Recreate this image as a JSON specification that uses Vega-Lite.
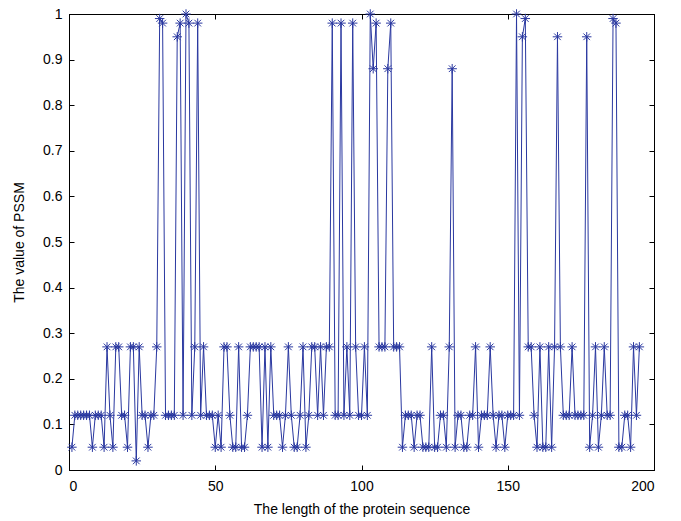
{
  "$schema": "https://vega.github.io/schema/vega-lite/v6.json",
  "width": 585,
  "height": 456,
  "autosize": {"type": "none"},
  "padding": {"left": 69, "top": 14, "right": 27, "bottom": 51},
  "background": "white",
  "config": {
    "view": {"stroke": "black", "strokeWidth": 1},
    "axis": {
      "grid": false,
      "domainColor": "black",
      "tickColor": "black",
      "labelColor": "black",
      "titleColor": "black",
      "labelFont": "Liberation Sans",
      "titleFont": "Liberation Sans",
      "labelFontSize": 14,
      "titleFontSize": 14,
      "titleFontWeight": "normal",
      "tickSize": -5
    }
  },
  "data": {"values": [
    {"x":1,"v":0.05},{"x":2,"v":0.12},{"x":3,"v":0.12},{"x":4,"v":0.12},{"x":5,"v":0.12},{"x":6,"v":0.12},{"x":7,"v":0.12},{"x":8,"v":0.05},{"x":9,"v":0.12},{"x":10,"v":0.12},
    {"x":11,"v":0.12},{"x":12,"v":0.05},{"x":13,"v":0.27},{"x":14,"v":0.12},{"x":15,"v":0.05},{"x":16,"v":0.27},{"x":17,"v":0.27},{"x":18,"v":0.12},{"x":19,"v":0.12},{"x":20,"v":0.05},
    {"x":21,"v":0.27},{"x":22,"v":0.27},{"x":23,"v":0.02},{"x":24,"v":0.27},{"x":25,"v":0.12},{"x":26,"v":0.12},{"x":27,"v":0.05},{"x":28,"v":0.12},{"x":29,"v":0.12},{"x":30,"v":0.27},
    {"x":31,"v":0.99},{"x":32,"v":0.98},{"x":33,"v":0.12},{"x":34,"v":0.12},{"x":35,"v":0.12},{"x":36,"v":0.12},{"x":37,"v":0.95},{"x":38,"v":0.98},{"x":39,"v":0.12},{"x":40,"v":1.0},
    {"x":41,"v":0.98},{"x":42,"v":0.12},{"x":43,"v":0.27},{"x":44,"v":0.98},{"x":45,"v":0.12},{"x":46,"v":0.27},{"x":47,"v":0.12},{"x":48,"v":0.12},{"x":49,"v":0.12},{"x":50,"v":0.05},
    {"x":51,"v":0.12},{"x":52,"v":0.05},{"x":53,"v":0.27},{"x":54,"v":0.27},{"x":55,"v":0.12},{"x":56,"v":0.05},{"x":57,"v":0.05},{"x":58,"v":0.27},{"x":59,"v":0.05},{"x":60,"v":0.05},
    {"x":61,"v":0.12},{"x":62,"v":0.27},{"x":63,"v":0.27},{"x":64,"v":0.27},{"x":65,"v":0.27},{"x":66,"v":0.05},{"x":67,"v":0.27},{"x":68,"v":0.05},{"x":69,"v":0.27},{"x":70,"v":0.12},
    {"x":71,"v":0.12},{"x":72,"v":0.12},{"x":73,"v":0.05},{"x":74,"v":0.12},{"x":75,"v":0.27},{"x":76,"v":0.12},{"x":77,"v":0.05},{"x":78,"v":0.05},{"x":79,"v":0.12},{"x":80,"v":0.27},
    {"x":81,"v":0.05},{"x":82,"v":0.12},{"x":83,"v":0.27},{"x":84,"v":0.27},{"x":85,"v":0.12},{"x":86,"v":0.27},{"x":87,"v":0.12},{"x":88,"v":0.27},{"x":89,"v":0.27},{"x":90,"v":0.98},
    {"x":91,"v":0.12},{"x":92,"v":0.12},{"x":93,"v":0.98},{"x":94,"v":0.12},{"x":95,"v":0.27},{"x":96,"v":0.12},{"x":97,"v":0.98},{"x":98,"v":0.27},{"x":99,"v":0.12},{"x":100,"v":0.12},
    {"x":101,"v":0.27},{"x":102,"v":0.12},{"x":103,"v":1.0},{"x":104,"v":0.88},{"x":105,"v":0.98},{"x":106,"v":0.27},{"x":107,"v":0.27},{"x":108,"v":0.27},{"x":109,"v":0.88},{"x":110,"v":0.98},
    {"x":111,"v":0.27},{"x":112,"v":0.27},{"x":113,"v":0.27},{"x":114,"v":0.05},{"x":115,"v":0.12},{"x":116,"v":0.12},{"x":117,"v":0.12},{"x":118,"v":0.05},{"x":119,"v":0.12},{"x":120,"v":0.12},
    {"x":121,"v":0.05},{"x":122,"v":0.05},{"x":123,"v":0.05},{"x":124,"v":0.27},{"x":125,"v":0.05},{"x":126,"v":0.05},{"x":127,"v":0.12},{"x":128,"v":0.12},{"x":129,"v":0.05},{"x":130,"v":0.27},
    {"x":131,"v":0.88},{"x":132,"v":0.05},{"x":133,"v":0.12},{"x":134,"v":0.12},{"x":135,"v":0.05},{"x":136,"v":0.05},{"x":137,"v":0.12},{"x":138,"v":0.12},{"x":139,"v":0.27},{"x":140,"v":0.05},
    {"x":141,"v":0.12},{"x":142,"v":0.12},{"x":143,"v":0.12},{"x":144,"v":0.27},{"x":145,"v":0.12},{"x":146,"v":0.05},{"x":147,"v":0.12},{"x":148,"v":0.12},{"x":149,"v":0.05},{"x":150,"v":0.12},
    {"x":151,"v":0.12},{"x":152,"v":0.12},{"x":153,"v":1.0},{"x":154,"v":0.12},{"x":155,"v":0.95},{"x":156,"v":0.99},{"x":157,"v":0.27},{"x":158,"v":0.27},{"x":159,"v":0.12},{"x":160,"v":0.05},
    {"x":161,"v":0.27},{"x":162,"v":0.05},{"x":163,"v":0.05},{"x":164,"v":0.27},{"x":165,"v":0.05},{"x":166,"v":0.27},{"x":167,"v":0.95},{"x":168,"v":0.27},{"x":169,"v":0.12},{"x":170,"v":0.12},
    {"x":171,"v":0.12},{"x":172,"v":0.27},{"x":173,"v":0.12},{"x":174,"v":0.12},{"x":175,"v":0.12},{"x":176,"v":0.12},{"x":177,"v":0.95},{"x":178,"v":0.05},{"x":179,"v":0.12},{"x":180,"v":0.27},
    {"x":181,"v":0.05},{"x":182,"v":0.12},{"x":183,"v":0.27},{"x":184,"v":0.12},{"x":185,"v":0.12},{"x":186,"v":0.99},{"x":187,"v":0.98},{"x":188,"v":0.05},{"x":189,"v":0.05},{"x":190,"v":0.12},
    {"x":191,"v":0.12},{"x":192,"v":0.05},{"x":193,"v":0.27},{"x":194,"v":0.12},{"x":195,"v":0.27}
  ]},
  "layer": [
    {
      "mark": {"type": "line", "color": "#2a38a0", "strokeWidth": 1},
      "encoding": {
        "x": {"field": "x", "type": "quantitative", "scale": {"domain": [0, 200], "nice": false},
              "axis": {"values": [0, 50, 100, 150, 200], "format": "d", "title": "The length of the protein sequence", "labelPadding": 14, "titlePadding": 9}},
        "y": {"field": "v", "type": "quantitative", "scale": {"domain": [0, 1], "nice": false},
              "axis": {"values": [0, 0.1, 0.2, 0.3, 0.4, 0.5, 0.6, 0.7, 0.8, 0.9, 1], "format": "~g", "title": "The value of PSSM", "labelPadding": 12, "titlePadding": 16}}
      }
    },
    {
      "mark": {"type": "point", "shape": "M-1,0L1,0M0,-1L0,1M-0.7,-0.7L0.7,0.7M-0.7,0.7L0.7,-0.7", "filled": false, "color": "#2a38a0", "size": 90, "strokeWidth": 1, "opacity": 1},
      "encoding": {
        "x": {"field": "x", "type": "quantitative", "axis": {"orient": "top", "values": [0, 50, 100, 150, 200], "labels": false, "title": null}},
        "y": {"field": "v", "type": "quantitative", "axis": {"orient": "right", "values": [0, 0.1, 0.2, 0.3, 0.4, 0.5, 0.6, 0.7, 0.8, 0.9, 1], "labels": false, "title": null}}
      }
    }
  ],
  "resolve": {"axis": {"x": "independent", "y": "independent"}}
}
